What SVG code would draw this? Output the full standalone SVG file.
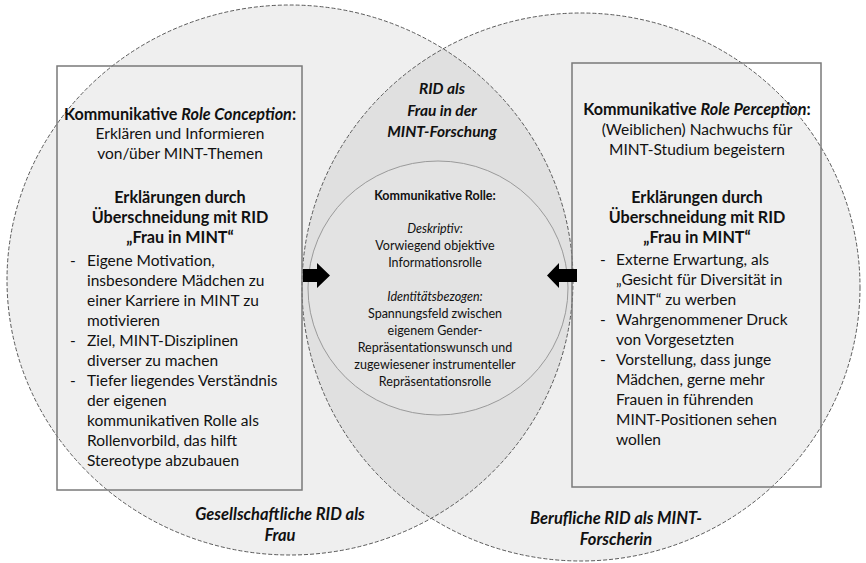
<svg xmlns="http://www.w3.org/2000/svg" width="866" height="563" viewBox="0 0 866 563">
<style>
.ell{fill:#efefef;stroke:none}
.dash{fill:none;stroke:#5a5a5a;stroke-width:1;stroke-dasharray:4 2}
.box{fill:none;stroke:#7a7a7a;stroke-width:1.5}
.inner{fill:#e3e3e3;stroke:#9a9a9a;stroke-width:1}
text{font-family:Lato,"Open Sans",sans-serif;fill:#111111}
.t{font-size:15.5px}
.h{font-size:16.2px}
.l{font-size:16.5px}
.c{text-anchor:middle}
.b{font-weight:bold}
.i{font-style:italic}
.s{font-size:12.5px}
.arrow{fill:#000}
</style>
<defs>
<clipPath id="clipL"><ellipse cx="290" cy="280" rx="283" ry="275"/></clipPath>
</defs>
<rect width="866" height="563" fill="#ffffff"/>
<g id="circle-gesellschaftlich">
<ellipse class="ell" cx="290" cy="280" rx="283" ry="275"/>
</g>
<g id="circle-beruflich">
<ellipse class="ell" cx="581" cy="287" rx="279" ry="274"/>
</g>
<g id="lens-rid-frau-mint">
<ellipse cx="581" cy="287" rx="279" ry="274" fill="#e0e0e0" clip-path="url(#clipL)"/>
<ellipse class="dash" cx="290" cy="280" rx="283" ry="275"/>
<ellipse class="dash" cx="581" cy="287" rx="279" ry="274"/>
<text class="t c b i" x="442" y="94">RID als</text>
<text class="t c b i" x="442" y="116">Frau in der</text>
<text class="t c b i" x="442" y="137">MINT-Forschung</text>
</g>
<g id="inner-kommunikative-rolle">
<ellipse class="inner" cx="438" cy="288" rx="130" ry="127"/>
<text class="s c b" x="435" y="200">Kommunikative Rolle:</text>
<text class="s c i" x="435" y="233">Deskriptiv:</text>
<text class="s c" x="435" y="250">Vorwiegend objektive</text>
<text class="s c" x="435" y="267">Informationsrolle</text>
<text class="s c i" x="435" y="301">Identitätsbezogen:</text>
<text class="s c" x="435" y="318">Spannungsfeld zwischen</text>
<text class="s c" x="435" y="335">eigenem Gender-</text>
<text class="s c" x="435" y="352">Repräsentationswunsch und</text>
<text class="s c" x="435" y="369">zugewiesener instrumenteller</text>
<text class="s c" x="435" y="386">Repräsentationsrolle</text>
</g>
<g id="box-role-conception">
<rect class="box" x="57" y="66" width="245" height="424"/>
<text class="h c" x="180" y="120"><tspan class="b">Kommunikative </tspan><tspan class="b i">Role Conception</tspan><tspan class="b">:</tspan></text>
<text class="t c" x="180" y="139">Erklären und Informieren</text>
<text class="t c" x="180" y="159">von/über MINT-Themen</text>
<text class="h c b" x="180" y="203">Erklärungen durch</text>
<text class="h c b" x="180" y="223">Überschneidung mit RID</text>
<text class="h c b" x="180" y="243">„Frau in MINT“</text>
<g class="t">
<text x="70" y="266">-</text>
<text x="87" y="266">Eigene Motivation,</text>
<text x="87" y="286">insbesondere Mädchen zu</text>
<text x="87" y="306">einer Karriere in MINT zu</text>
<text x="87" y="326">motivieren</text>
<text x="70" y="346">-</text>
<text x="87" y="346">Ziel, MINT-Disziplinen</text>
<text x="87" y="366">diverser zu machen</text>
<text x="70" y="386">-</text>
<text x="87" y="386">Tiefer liegendes Verständnis</text>
<text x="87" y="406">der eigenen</text>
<text x="87" y="426">kommunikativen Rolle als</text>
<text x="87" y="446">Rollenvorbild, das hilft</text>
<text x="87" y="466">Stereotype abzubauen</text>
</g>
</g>
<g id="box-role-perception">
<rect class="box" x="572" y="63" width="249" height="424"/>
<text class="h c" x="697" y="115"><tspan class="b">Kommunikative </tspan><tspan class="b i">Role Perception</tspan><tspan class="b">:</tspan></text>
<text class="t c" x="697" y="135">(Weiblichen) Nachwuchs für</text>
<text class="t c" x="697" y="155">MINT-Studium begeistern</text>
<text class="h c b" x="697" y="203">Erklärungen durch</text>
<text class="h c b" x="697" y="223">Überschneidung mit RID</text>
<text class="h c b" x="697" y="243">„Frau in MINT“</text>
<g class="t">
<text x="600" y="265">-</text>
<text x="616" y="265">Externe Erwartung, als</text>
<text x="616" y="285">„Gesicht für Diversität in</text>
<text x="616" y="305">MINT“ zu werben</text>
<text x="600" y="325">-</text>
<text x="616" y="325">Wahrgenommener Druck</text>
<text x="616" y="345">von Vorgesetzten</text>
<text x="600" y="365">-</text>
<text x="616" y="365">Vorstellung, dass junge</text>
<text x="616" y="385">Mädchen, gerne mehr</text>
<text x="616" y="405">Frauen in führenden</text>
<text x="616" y="425">MINT-Positionen sehen</text>
<text x="616" y="445">wollen</text>
</g>
</g>
<g id="label-gesellschaftlich">
<text class="l c b i" x="280" y="520">Gesellschaftliche RID als</text>
<text class="l c b i" x="280" y="541">Frau</text>
</g>
<g id="label-beruflich">
<text class="l c b i" x="616" y="524">Berufliche RID als MINT-</text>
<text class="l c b i" x="616" y="545">Forscherin</text>
</g>
<g id="connectors">
<polygon class="arrow" points="303,269 317,269 317,263 330,275.5 317,288 317,282 303,282"/>
<polygon class="arrow" points="577,269 559,269 559,263 547,275.5 559,288 559,282 577,282"/>
</g>
</svg>
